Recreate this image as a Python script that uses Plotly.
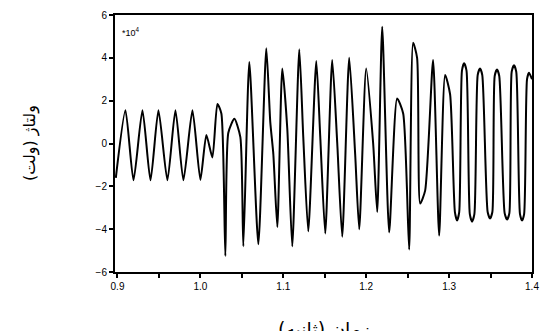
import plotly.graph_objects as go

# time (s) and voltage (x10^4 V)
time_s = [0.898, 0.9096, 0.9193, 0.9301, 0.9398, 0.9494, 0.9602, 0.9699, 0.9795, 0.9904,
          1.0000, 1.0072, 1.0145, 1.0205, 1.0253, 1.0301, 1.0337, 1.0410, 1.0482, 1.0518,
          1.0590, 1.0699, 1.0795, 1.0843, 1.0880, 1.0928, 1.0988, 1.1048, 1.1108, 1.1193,
          1.1241, 1.1301, 1.1398, 1.1446, 1.1506, 1.1590, 1.1651, 1.1711, 1.1795, 1.1867,
          1.1916, 1.2000, 1.2084, 1.2133, 1.2193, 1.2277, 1.2373, 1.2446, 1.2518, 1.2566,
          1.2614, 1.2651, 1.2711, 1.2807, 1.2880, 1.2952, 1.3012, 1.3070, 1.3096, 1.3122,
          1.3155, 1.3181, 1.3210, 1.3250, 1.3277, 1.3305, 1.3345, 1.3373, 1.3400, 1.3465,
          1.3494, 1.3522, 1.3550, 1.3578, 1.3605, 1.3670, 1.3699, 1.3727, 1.3755, 1.3783,
          1.3810, 1.3855, 1.3880, 1.3905, 1.3940, 1.3964, 1.4000]
voltage = [-1.6, 1.55, -1.72, 1.55, -1.72, 1.55, -1.72, 1.55, -1.72, 1.55,
           -1.7, 0.4, -0.65, 1.85, 1.4, -5.25, 0.5, 1.15, 0.3, -4.8,
           3.8, -4.7, 4.45, 1.0, -0.5, -3.9, 3.5, 0.7, -4.8, 4.4,
           0.3, -4.1, 3.85, 0.3, -4.2, 3.9, 0.0, -4.35, 4.0, -0.5,
           -4.0, 3.5, 0.0, -3.2, 5.45, -4.15, 2.1, 1.4, -4.95, 4.7,
           4.0, -2.8, -2.2, 3.9, -4.3, 3.2, 2.3, -3.2, -3.6, -3.2,
           3.4, 3.75, 3.4, -3.3, -3.65, -3.3, 3.2, 3.5, 3.2, -3.2,
           -3.5, -3.2, 3.15, 3.45, 3.15, -3.25, -3.55, -3.25, 3.35, 3.65,
           3.35, -3.3, -3.6, -3.3, 3.0, 3.3, 3.0]

x_major = [0.9, 1.0, 1.1, 1.2, 1.3, 1.4]
x_labels = ["0.9", "1.0", "1.1", "1.2", "1.3", "1.4"]
y_tickvals = [-6, -4, -2, 0, 2, 4, 6]
x_title = "زمان (ثانیه)"
y_title = "ولتاژ (ولت)"
scale_note = "*10<sup>4</sup>"

fig = go.Figure()
fig.add_trace(go.Scatter(x=time_s, y=voltage, mode="lines",
                         line=dict(color="black", width=2, shape="spline", smoothing=0.6),
                         showlegend=False, hoverinfo="skip"))

axis_common = dict(showline=True, linecolor="black", linewidth=2, mirror=True,
                   ticks="outside", ticklen=4, tickwidth=1.5, tickcolor="black",
                   showgrid=False, zeroline=False, automargin=False,
                   tickfont=dict(family="Liberation Sans", size=10, color="black"))

fig.update_xaxes(range=[0.897, 1.4], tickvals=x_major, ticktext=x_labels,
                 minor=dict(ticks="outside", ticklen=4, tickwidth=1.5, tickcolor="black",
                            tick0=0.95, dtick=0.1, showgrid=False),
                 **axis_common)
fig.update_yaxes(range=[-6, 6], tickvals=y_tickvals, **axis_common)

fig.add_annotation(x=0.5, y=-0.17, xref="paper", yref="paper", text=x_title,
                   showarrow=False, xanchor="center", yanchor="top",
                   font=dict(family="DejaVu Sans", size=19, color="black"))
fig.add_annotation(x=-0.205, y=0.5, xref="paper", yref="paper", text=y_title,
                   showarrow=False, xanchor="center", yanchor="middle", textangle=-90,
                   font=dict(family="DejaVu Sans", size=16, color="black"))
fig.add_annotation(x=0.012, y=0.965, xref="paper", yref="paper", text=scale_note,
                   showarrow=False, xanchor="left", yanchor="top",
                   font=dict(family="Liberation Sans", size=9, color="black"))

fig.update_layout(width=544, height=331, margin=dict(l=115, r=12, t=15, b=59),
                  paper_bgcolor="white", plot_bgcolor="white", showlegend=False)

fig.write_html("out.html")
